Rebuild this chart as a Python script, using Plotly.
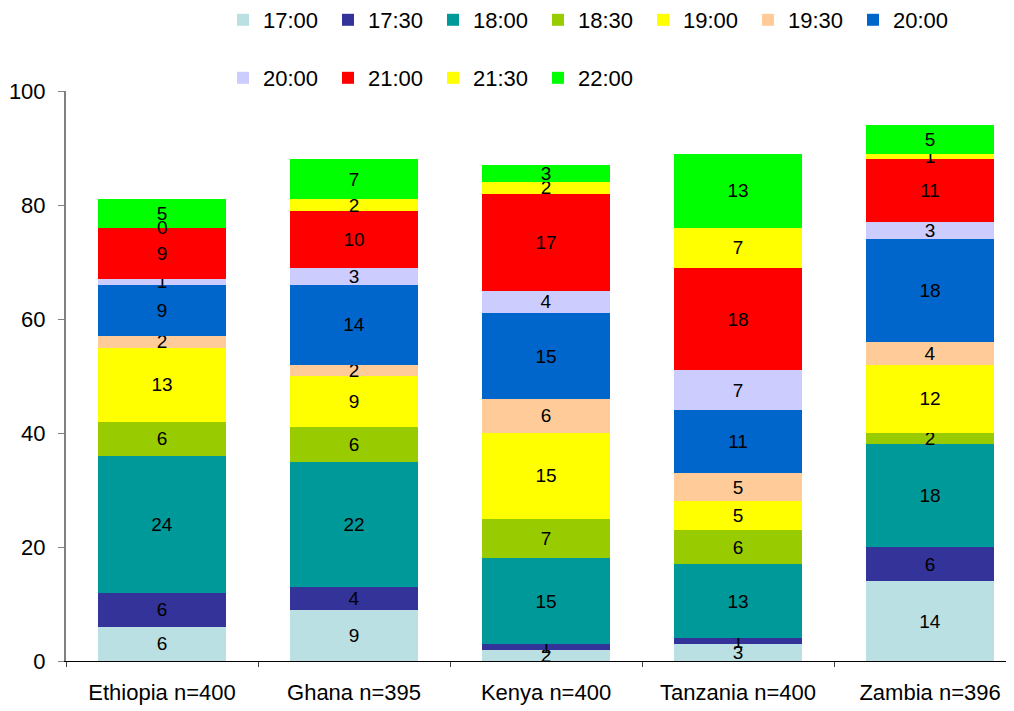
import plotly.graph_objects as go

countries = ["Ethiopia n=400", "Ghana n=395", "Kenya n=400", "Tanzania n=400", "Zambia n=396"]
series_names = ["17:00", "17:30", "18:00", "18:30", "19:00", "19:30", "20:00", "20:00", "21:00", "21:30", "22:00"]

v_1700 = [6, 9, 2, 3, 14]
v_1730 = [6, 4, 1, 1, 6]
v_1800 = [24, 22, 15, 13, 18]
v_1830 = [6, 6, 7, 6, 2]
v_1900 = [13, 9, 15, 5, 12]
v_1930 = [2, 2, 6, 5, 4]
v_2000a = [9, 14, 15, 11, 18]
v_2000b = [1, 3, 4, 7, 3]
v_2100 = [9, 10, 17, 18, 11]
v_2130 = [0, 2, 2, 7, 1]
v_2200 = [5, 7, 3, 13, 5]

series_values = [v_1700, v_1730, v_1800, v_1830, v_1900, v_1930, v_2000a, v_2000b, v_2100, v_2130, v_2200]
colors = ["#BBE0E3", "#333399", "#009999", "#99CC00", "#FFFF00", "#FFCC99",
          "#0066CC", "#CCCCFF", "#FF0000", "#FFFF00", "#00FF00"]

FONT = "Liberation Sans, Arial, sans-serif"
LABEL_SIZE = 19

fig = go.Figure()
base = [0] * len(countries)
for i, (name, vals, col) in enumerate(zip(series_names, series_values, colors)):
    fig.add_trace(go.Bar(
        x=countries, y=vals, name=name,
        marker=dict(color=col, line=dict(width=0)),
        text=[str(v) for v in vals],
        textposition="inside", insidetextanchor="middle", textangle=0,
        textfont=dict(family=FONT, size=LABEL_SIZE, color="black"),
        legend="legend" if i < 7 else "legend2",
    ))
    # zero-height segments still carry a label in the original
    for j, v in enumerate(vals):
        if v == 0:
            fig.add_annotation(x=countries[j], y=base[j], text="0", showarrow=False,
                               font=dict(family=FONT, size=LABEL_SIZE, color="black"))
    base = [b + v for b, v in zip(base, vals)]

W, H = 1006, 703
fig.update_layout(
    barmode="stack",
    bargap=0.33,
    width=W, height=H,
    margin=dict(l=58, r=1, t=83, b=50, autoexpand=False),
    plot_bgcolor="white", paper_bgcolor="white",
    font=dict(family=FONT, size=22, color="black"),
    uniformtext=dict(mode="show", minsize=LABEL_SIZE),
    legend=dict(orientation="h", xref="container", yref="container",
                x=0.2137, y=1 - 12 / H, xanchor="left", yanchor="middle",
                entrywidth=60, entrywidthmode="pixels",
                font=dict(family=FONT, size=22), traceorder="normal"),
    legend2=dict(orientation="h", xref="container", yref="container",
                 x=0.2137, y=1 - 70 / H, xanchor="left", yanchor="middle",
                 entrywidth=60, entrywidthmode="pixels",
                 font=dict(family=FONT, size=22), traceorder="normal"),
    showlegend=True,
)
fig.update_yaxes(range=[0, 100], dtick=20, showgrid=False, zeroline=False,
                 showline=True, linecolor="#808080", linewidth=2,
                 ticks="outside", ticklen=6, tickcolor="#808080",
                 ticklabelstandoff=8,
                 tickfont=dict(family=FONT, size=22))
fig.update_xaxes(range=[-0.5, 4.432], showgrid=False, showline=True,
                 linecolor="black", linewidth=1,
                 ticks="outside", tickson="boundaries", ticklen=5, tickcolor="#404040",
                 ticklabelstandoff=12,
                 tickfont=dict(family=FONT, size=22))

fig.write_html("out.html")
